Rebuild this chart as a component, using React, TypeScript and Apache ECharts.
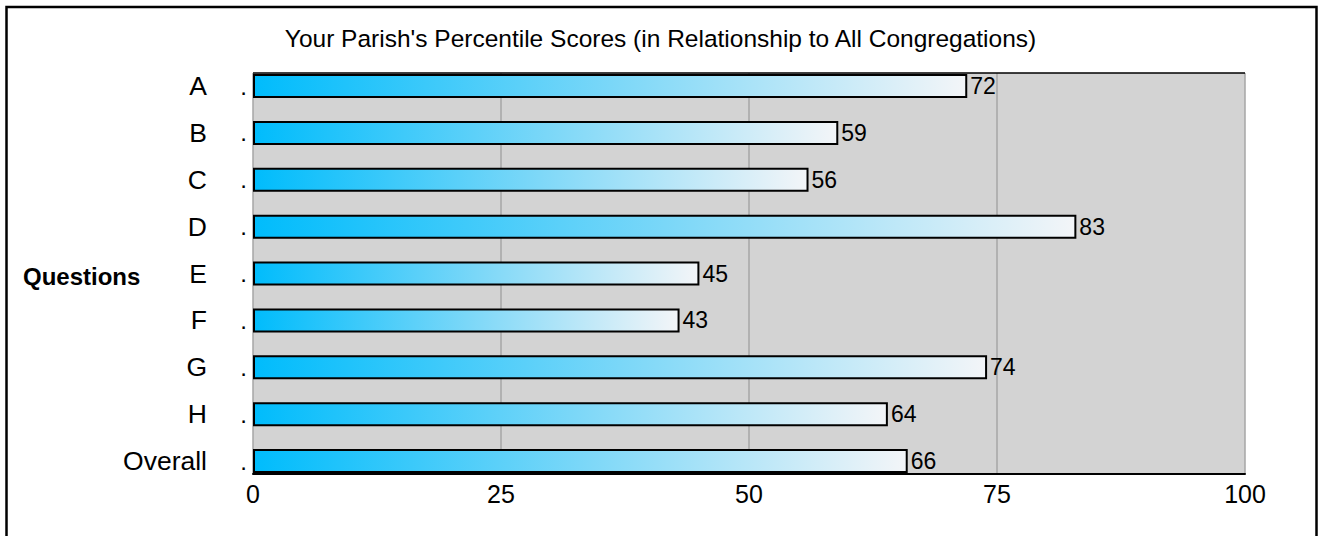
import React, { useEffect, useRef } from "react";
import * as echarts from "echarts";

const categories = ["A", "B", "C", "D", "E", "F", "G", "H", "Overall"];
const scores = [72, 59, 56, 83, 45, 43, 74, 64, 66];
const titleText = "Your Parish's Percentile Scores (in Relationship to All Congregations)";
const axisName = "Questions";

const FONT = "'Liberation Sans', Arial, Helvetica, sans-serif";

export default function App() {
  const ref = useRef<HTMLDivElement>(null);
  useEffect(() => {
    if (!ref.current) return;
    const chart = echarts.init(ref.current, undefined, { renderer: "svg" });
    const plotLeft = 253;
    const plotWidth = 992;
    const plotTop = 73;
    const plotHeight = 401;
    const step = 46.875;
    const firstCenter = 86;
    const bandTop = firstCenter - step / 2;
    chart.setOption({
      animation: false,
      backgroundColor: "#ffffff",
      textStyle: { fontFamily: FONT },
      title: {
        text: titleText,
        left: "center",
        top: 21,
        textStyle: { fontFamily: FONT, fontWeight: "normal", fontSize: 24.5, color: "#000" },
      },
      grid: [
        {
          left: plotLeft,
          top: plotTop,
          width: plotWidth,
          height: plotHeight,
          show: true,
          backgroundColor: "#d3d3d3",
          borderWidth: 0,
        },
        {
          left: plotLeft,
          top: bandTop,
          width: plotWidth,
          height: step * categories.length,
          show: false,
        },
      ],
      xAxis: [
        {
          type: "value",
          gridIndex: 0,
          min: 0,
          max: 100,
          interval: 25,
          axisLine: { show: true, lineStyle: { color: "#000", width: 2 } },
          axisTick: { show: false },
          splitLine: { show: true, lineStyle: { color: "#a6a6a6", width: 1.5 } },
          axisLabel: { color: "#000", fontSize: 25, fontFamily: FONT, margin: 7 },
        },
        {
          type: "value",
          gridIndex: 1,
          min: 0,
          max: 100,
          show: false,
        },
      ],
      yAxis: [
        {
          type: "value",
          gridIndex: 0,
          min: 0,
          max: 1,
          show: false,
        },
        {
          type: "category",
          gridIndex: 1,
          data: categories,
          inverse: true,
          axisLine: { show: false },
          axisTick: { show: false },
          splitLine: { show: false },
          axisLabel: {
            margin: 6,
            formatter: (v: string) => `{n|${v}}{d|.}`,
            rich: {
              n: { fontSize: 26.5, fontFamily: FONT, color: "#000", width: 100, align: "right" },
              d: { fontSize: 24, fontFamily: FONT, color: "#000", width: 40, align: "right" },
            },
          },
        },
      ],
      graphic: [
        {
          type: "rect",
          shape: { x: 6.5, y: 7, width: 1310, height: 560 },
          style: { fill: "none", stroke: "#000", lineWidth: 2.5 },
          z: 10,
        },
        {
          type: "line",
          shape: { x1: plotLeft, y1: plotTop, x2: plotLeft + plotWidth, y2: plotTop },
          style: { stroke: "#000", lineWidth: 1.5 },
          z: 1,
        },
        {
          type: "text",
          x: 23,
          y: 276,
          style: {
            text: axisName,
            fontFamily: FONT,
            fontSize: 24,
            fontWeight: "bold",
            fill: "#000",
            verticalAlign: "middle",
          },
        },
      ],
      series: [
        {
          type: "bar",
          xAxisIndex: 1,
          yAxisIndex: 1,
          data: scores,
          barWidth: 24,
          z: 5,
          itemStyle: {
            borderColor: "#000",
            borderWidth: 2,
            color: new echarts.graphic.LinearGradient(0, 0, 1, 0, [
              { offset: 0, color: "#00bcfc" },
              { offset: 0.5, color: "#7ad7f8" },
              { offset: 1, color: "#f3f5f8" },
            ]),
          },
          label: {
            show: true,
            position: "right",
            distance: 3,
            fontSize: 23,
            fontFamily: FONT,
            color: "#000",
          },
        },
      ],
    });
    return () => chart.dispose();
  }, []);
  return (
    <div
      ref={ref}
      style={{ position: "fixed", left: 0, top: 0, width: 1321, height: 536 }}
    />
  );
}
